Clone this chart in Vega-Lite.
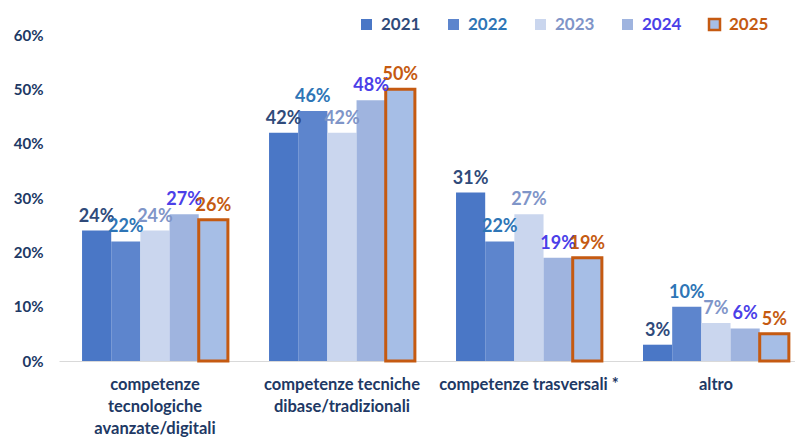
{
  "$schema": "https://vega.github.io/schema/vega-lite/v6.json",
  "width": 736,
  "height": 326,
  "autosize": {"type": "none"},
  "padding": {"left": 59, "top": 35, "right": 0, "bottom": 76},
  "background": "white",
  "config": {
    "view": {"stroke": null},
    "font": "Lato"
  },
  "data": {
    "values": [
      {"cat": "competenze|tecnologiche|avanzate/digitali", "year": "2021", "value": 0.24},
      {"cat": "competenze|tecnologiche|avanzate/digitali", "year": "2022", "value": 0.22},
      {"cat": "competenze|tecnologiche|avanzate/digitali", "year": "2023", "value": 0.24},
      {"cat": "competenze|tecnologiche|avanzate/digitali", "year": "2024", "value": 0.27},
      {"cat": "competenze|tecnologiche|avanzate/digitali", "year": "2025", "value": 0.26},
      {"cat": "competenze tecniche|dibase/tradizionali", "year": "2021", "value": 0.42},
      {"cat": "competenze tecniche|dibase/tradizionali", "year": "2022", "value": 0.46},
      {"cat": "competenze tecniche|dibase/tradizionali", "year": "2023", "value": 0.42},
      {"cat": "competenze tecniche|dibase/tradizionali", "year": "2024", "value": 0.48},
      {"cat": "competenze tecniche|dibase/tradizionali", "year": "2025", "value": 0.50},
      {"cat": "competenze trasversali *", "year": "2021", "value": 0.31},
      {"cat": "competenze trasversali *", "year": "2022", "value": 0.22},
      {"cat": "competenze trasversali *", "year": "2023", "value": 0.27},
      {"cat": "competenze trasversali *", "year": "2024", "value": 0.19},
      {"cat": "competenze trasversali *", "year": "2025", "value": 0.19},
      {"cat": "altro", "year": "2021", "value": 0.03},
      {"cat": "altro", "year": "2022", "value": 0.10},
      {"cat": "altro", "year": "2023", "value": 0.07},
      {"cat": "altro", "year": "2024", "value": 0.06},
      {"cat": "altro", "year": "2025", "value": 0.05}
    ]
  },
  "encoding": {
    "x": {
      "field": "cat",
      "type": "nominal",
      "sort": null,
      "scale": {"paddingInner": 0.22, "paddingOuter": 0.078, "align": 0.79},
      "axis": {
        "title": null,
        "labelAngle": 0,
        "labelExpr": "split(datum.label, '|')",
        "labelFont": "Lato",
        "labelFontSize": 16.5,
        "labelFontWeight": "bold",
        "labelColor": "#203864",
        "labelLineHeight": 22,
        "labelPadding": 15,
        "ticks": false,
        "domain": true,
        "domainColor": "#D9D9D9",
        "domainWidth": 1
      }
    },
    "xOffset": {"field": "year", "type": "nominal", "scale": {"paddingInner": 0, "paddingOuter": 0}},
    "y": {
      "field": "value",
      "type": "quantitative",
      "scale": {"domain": [0, 0.6], "nice": false},
      "axis": {
        "title": null,
        "values": [0, 0.1, 0.2, 0.3, 0.4, 0.5, 0.6],
        "format": ".0%",
        "grid": false,
        "domain": false,
        "ticks": false,
        "labelFont": "Lato",
        "labelFontSize": 15,
        "labelFontWeight": "bold",
        "labelColor": "#203864",
        "labelPadding": 16
      }
    }
  },
  "layer": [
    {
      "mark": {"type": "bar", "strokeWidth": 3},
      "encoding": {
        "fill": {
          "field": "year",
          "type": "nominal",
          "scale": {"domain": ["2021", "2022", "2023", "2024", "2025"], "range": ["#4A77C6", "#5D85CD", "#CAD6EE", "#9FB4DF", "#A6BEE6"]},
          "legend": {
            "title": null,
            "orient": "none",
            "legendX": 299,
            "legendY": -19,
            "direction": "horizontal",
            "columns": 5,
            "columnPadding": 22,
            "padding": 0,
            "symbolType": "square",
            "symbolSize": 121,
            "symbolStrokeWidth": 2.5,
            "labelFont": "Lato",
            "labelFontSize": 17,
            "labelFontWeight": "bold",
            "labelOffset": 6,
            "encode": {
              "labels": {
                "update": {
                  "fill": {"signal": "datum.value === '2021' ? '#2F4A7A' : datum.value === '2022' ? '#2E75B6' : datum.value === '2023' ? '#7F95C8' : datum.value === '2024' ? '#4B3FE8' : '#C55A11'"}
                }
              }
            }
          }
        },
        "stroke": {
          "field": "year",
          "type": "nominal",
          "scale": {"domain": ["2021", "2022", "2023", "2024", "2025"], "range": ["transparent", "transparent", "transparent", "transparent", "#C55A11"]},
          "legend": null
        }
      }
    },
    {
      "mark": {"type": "text", "baseline": "alphabetic", "dy": -9, "font": "Lato", "fontSize": 18, "fontWeight": "bold"},
      "encoding": {
        "text": {"field": "value", "type": "quantitative", "format": ".0%"},
        "color": {
          "field": "year",
          "type": "nominal",
          "scale": {"domain": ["2021", "2022", "2023", "2024", "2025"], "range": ["#2F4A7A", "#2E75B6", "#7F95C8", "#4B3FE8", "#C55A11"]},
          "legend": null
        }
      }
    }
  ]
}
